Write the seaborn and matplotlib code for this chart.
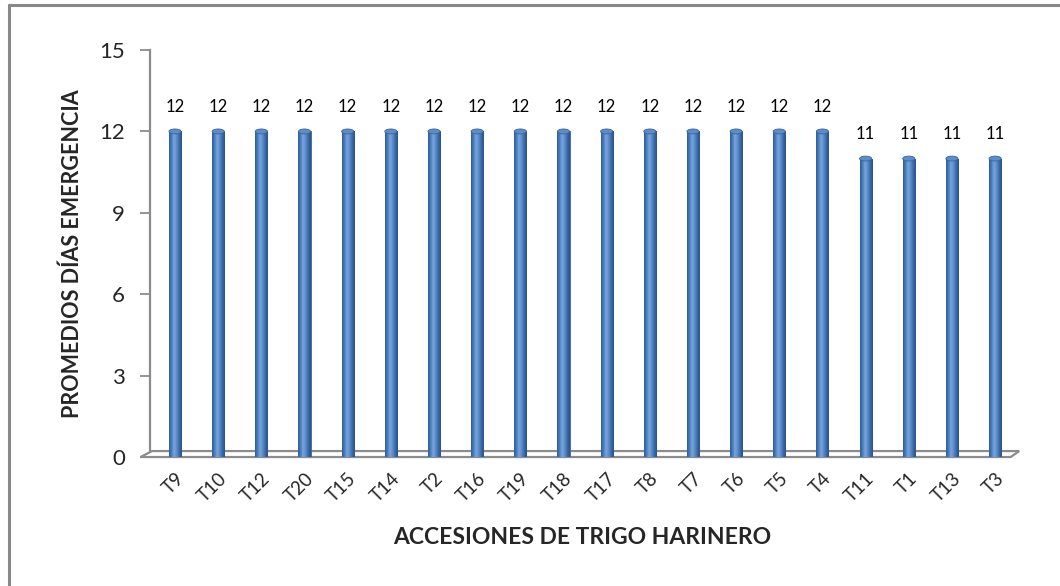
import numpy as np
import matplotlib
matplotlib.use("Agg")
import matplotlib.pyplot as plt
import seaborn as sns
import pandas as pd
from matplotlib.patches import Polygon, Ellipse
from matplotlib.lines import Line2D
from matplotlib.colors import LinearSegmentedColormap

accesiones = ["T9", "T10", "T12", "T20", "T15", "T14", "T2", "T16", "T19", "T18",
              "T17", "T8", "T7", "T6", "T5", "T4", "T11", "T1", "T13", "T3"]
dias = [12, 12, 12, 12, 12, 12, 12, 12, 12, 12,
        12, 12, 12, 12, 12, 12, 11, 11, 11, 11]
y_ticks = [0, 3, 6, 9, 12, 15]

sns.set_theme(style="white")
plt.rcParams["font.family"] = ["Lato", "DejaVu Sans"]

df = pd.DataFrame({"acc": accesiones, "dias": dias})

fig = plt.figure(figsize=(10.6, 5.86), dpi=100)
ax = fig.add_axes([0.1415, 0.2201, 0.816, 0.6945])

BAR_BLUE = "#4F81BD"
EDGE = "#3A659A"
GRID = "#8C8C8C"

sns.barplot(data=df, x="acc", y="dias", color=BAR_BLUE, width=0.28,
            saturation=1, edgecolor=EDGE, linewidth=0.6, ax=ax, zorder=3)

ax.set_xlim(-0.58, 19.46)
ax.set_ylim(0, 15)

# cylinder shading on each bar
cmap = LinearSegmentedColormap.from_list(
    "cyl", ["#2E5B92", "#4A7EC0", "#7AA7DE", "#5A8CCB", "#3A69A5", "#2A5288"])
grad = np.linspace(0, 1, 64).reshape(1, -1)
depth = 0.13  # ellipse height in data units
for p in ax.patches:
    x0, y0 = p.get_x(), p.get_y()
    w, h = p.get_width(), p.get_height()
    im = ax.imshow(grad, cmap=cmap, aspect="auto", extent=(x0, x0 + w, y0, y0 + h),
                   zorder=4, interpolation="bicubic")
    im.set_clip_path(p)
    ax.add_patch(Ellipse((x0 + w / 2, y0 + h), w, depth * 1.4, facecolor="#5B8DCB",
                         edgecolor=EDGE, linewidth=0.6, zorder=5))
    ax.add_patch(Ellipse((x0 + w / 2, y0), w, depth * 1.4, facecolor="#3A69A5",
                         edgecolor="none", zorder=2))
    ax.text(x0 + w / 2, y0 + h + 0.6, f"{int(h)}", ha="center", va="bottom",
            fontsize=12, color="#000000", zorder=6)
ax.set_ylim(0, 15)
ax.set_xlim(-0.58, 19.46)

# 3D floor
back = 0.22
xl, xr = -0.58, 19.46
ax.add_patch(Polygon([(xl - 0.22, 0), (xl + 0.05, back), (xr + 0.1, back), (xr - 0.1, 0)],
                     closed=True, facecolor="white", edgecolor=GRID, linewidth=1.6,
                     zorder=1, clip_on=False))

for s in ["top", "right", "bottom"]:
    ax.spines[s].set_visible(False)
ax.spines["left"].set_color(GRID)
ax.spines["left"].set_linewidth(1.6)
ax.spines["left"].set_bounds(back, 15)
ax.spines["left"].set_zorder(1)

ax.set_yticks(y_ticks)
ax.set_yticklabels([str(v) for v in y_ticks], fontsize=16)
ax.tick_params(axis="y", which="major", left=True, length=7, width=1.3, color=GRID,
               pad=11)
ax.tick_params(axis="x", bottom=False, pad=3)
plt.setp(ax.get_xticklabels(), rotation=45, ha="right", rotation_mode="anchor",
         fontsize=13.5)

ax.set_xlabel("ACCESIONES DE TRIGO HARINERO", fontsize=16.5, fontweight="bold",
              labelpad=16)
ax.set_ylabel("PROMEDIOS DÍAS EMERGENCIA", fontsize=15.5, fontweight="bold",
              labelpad=12)

# outer chart frame (left and top edges)
fig.add_artist(Line2D([0.0085, 0.0085], [0, 0.9915], transform=fig.transFigure,
                      color="#888888", linewidth=2.2))
fig.add_artist(Line2D([0.0085, 1.0], [0.9915, 0.9915], transform=fig.transFigure,
                      color="#888888", linewidth=2.2))

fig.savefig("out.png", dpi=100)
